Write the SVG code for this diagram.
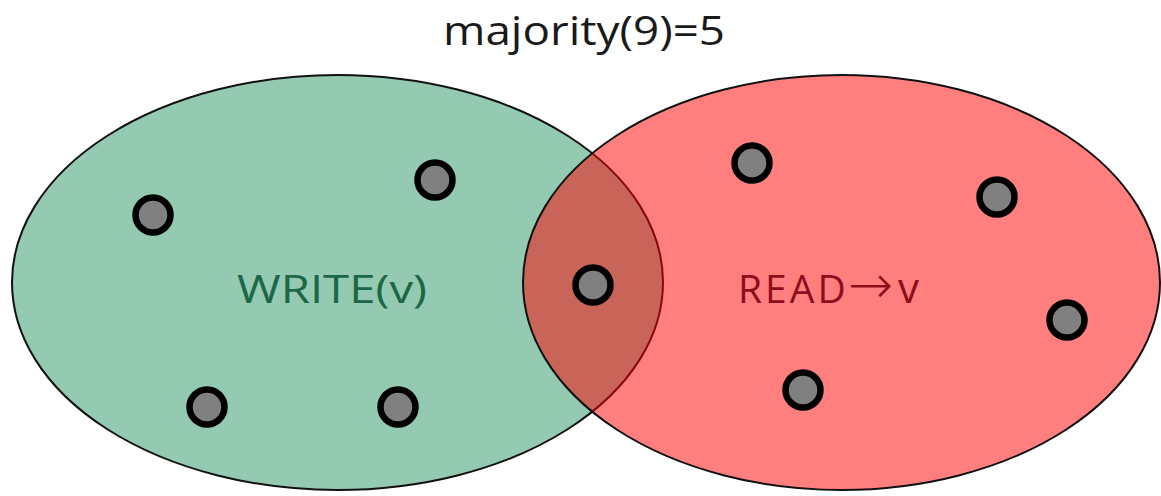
<svg xmlns="http://www.w3.org/2000/svg" width="1161" height="496" viewBox="0 0 1161 496">
  <style>
    .set { stroke: #111; stroke-width: 2; }
    .dot { fill: #808080; stroke: #000; stroke-width: 6.5; }
    .lbl { font-family: "Open Sans", "Liberation Sans", "DejaVu Sans", sans-serif; font-size: 39px; }
    .arr { font-family: "DejaVu Sans", "Liberation Sans", sans-serif; font-size: 54px; font-weight: 200; }
  </style>
  <rect width="1161" height="496" fill="#ffffff"/>
  <text class="lbl" x="443" y="45" textLength="282" lengthAdjust="spacingAndGlyphs" fill="#1a1a1a" style="font-size:40px">majority(9)=5</text>
  <g id="write-set">
    <ellipse class="set" cx="337.5" cy="282.5" rx="325.5" ry="207.5" fill="#93cab1"/>
  </g>
  <g id="read-set">
    <ellipse class="set" cx="841.5" cy="282.5" rx="318.5" ry="207.5" fill="#ff0000" fill-opacity="0.5"/>
  </g>
  <text class="lbl" x="237" y="303" textLength="190" lengthAdjust="spacingAndGlyphs" fill="#1d6747">WRITE(v)</text>
  <text class="lbl" y="303" fill="#8c0d1c"><tspan x="738" letter-spacing="3">READ</tspan><tspan x="848" class="arr">→</tspan><tspan x="898" style="font-size:42px">v</tspan></text>
  <g id="connectors"/>
  <g id="node-w1"><circle class="dot" cx="153" cy="215" r="17.5"/></g>
  <g id="node-w2"><circle class="dot" cx="435" cy="180" r="17.5"/></g>
  <g id="node-w3"><circle class="dot" cx="207" cy="407" r="17.5"/></g>
  <g id="node-w4"><circle class="dot" cx="398" cy="407" r="17.5"/></g>
  <g id="node-shared"><circle class="dot" cx="593" cy="285" r="17.5"/></g>
  <g id="node-r1"><circle class="dot" cx="752" cy="163" r="17.5"/></g>
  <g id="node-r2"><circle class="dot" cx="997" cy="197" r="17.5"/></g>
  <g id="node-r3"><circle class="dot" cx="1067" cy="320" r="17.5"/></g>
  <g id="node-r4"><circle class="dot" cx="803" cy="390" r="17.5"/></g>
</svg>
